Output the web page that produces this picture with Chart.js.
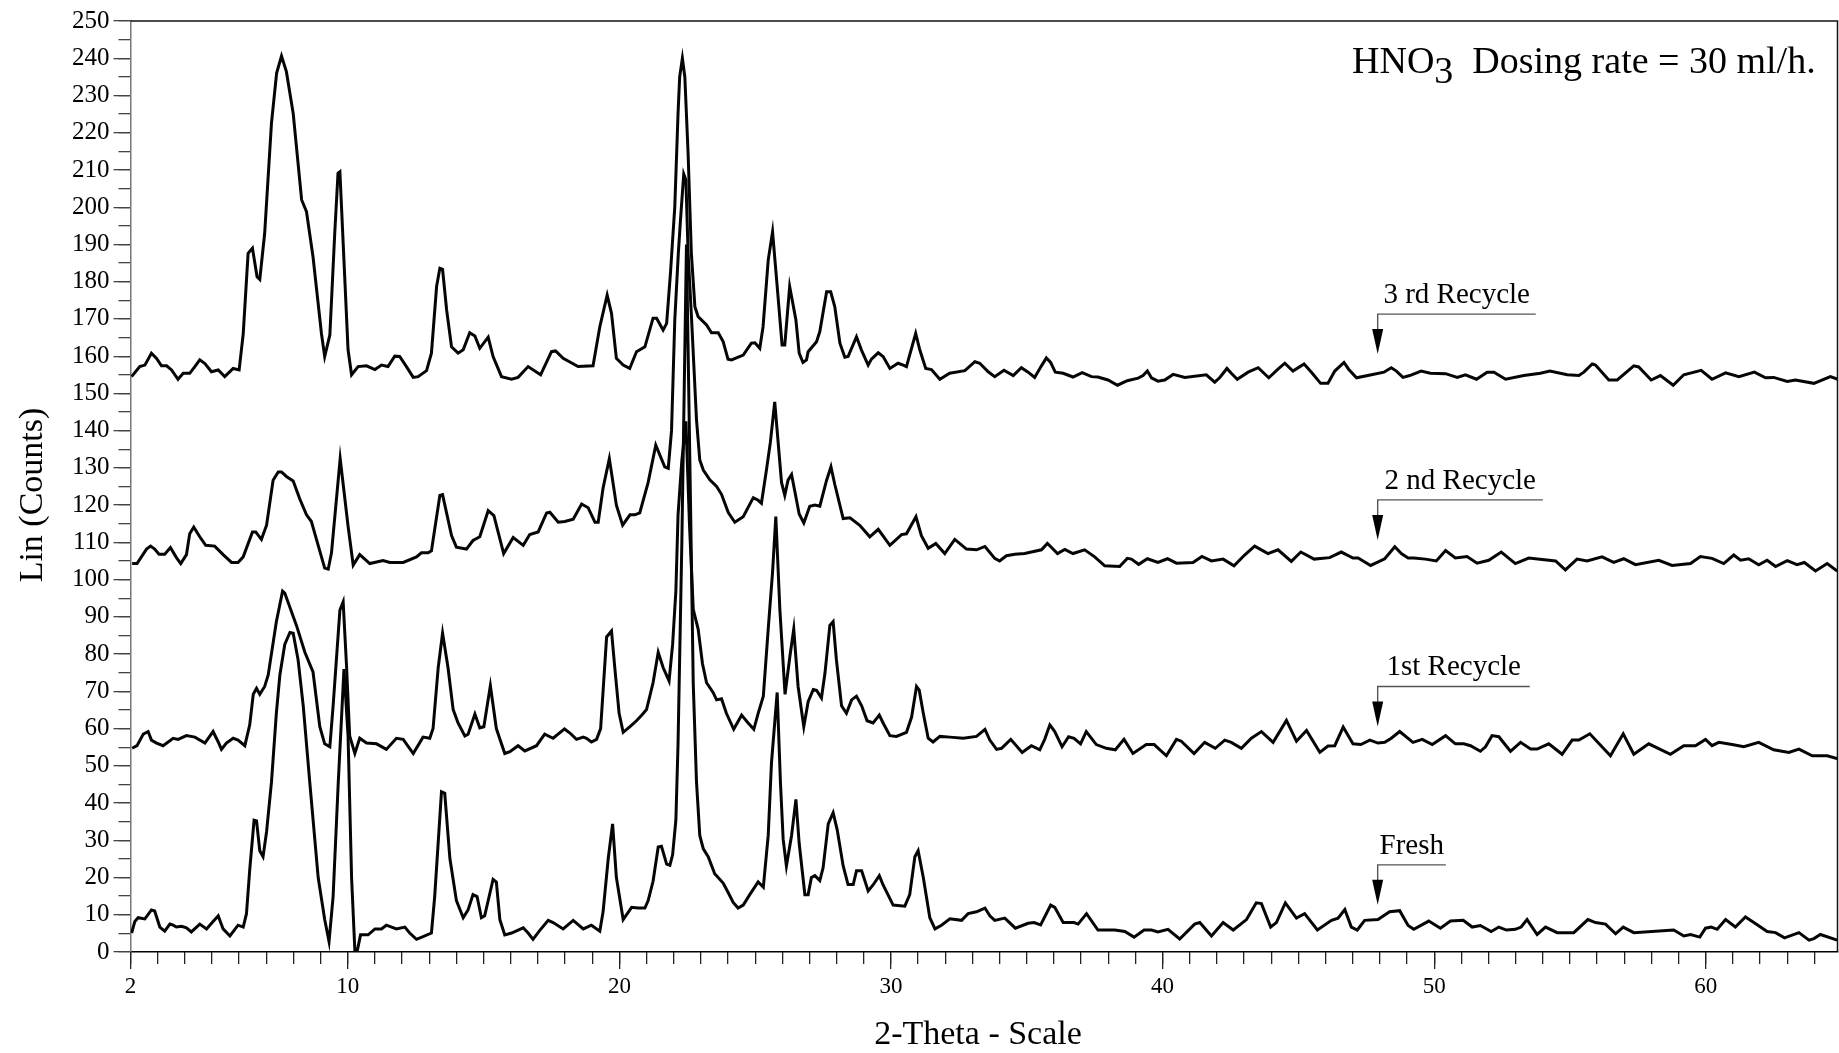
<!DOCTYPE html>
<html>
<head>
<meta charset="utf-8">
<script src="https://cdn.jsdelivr.net/npm/chart.js@4.4.1/dist/chart.umd.min.js"></script>
<style>
    html, body { margin: 0; padding: 0; background: #fff; }
</style>
</head>
<body>
<canvas id="xrd_chart" width="1839" height="1053"></canvas>
<script>
// [2-theta, counts], one list per sample
const fresh = [
    [2.04,5.1],[2.16,8.2],[2.28,9.2],[2.53,8.9],[2.77,11.3],[2.89,11],[3.08,6.7],[3.26,5.6],[3.45,7.5],[3.57,7.2],
    [3.69,6.7],[3.88,6.9],[4.06,6.5],[4.24,5.4],[4.55,7.5],[4.8,6.2],[5.04,8.2],[5.23,9.7],[5.41,6.2],[5.66,4.3],
    [5.96,7.2],[6.15,6.7],[6.27,10.3],[6.39,22.1],[6.55,35.4],[6.64,35.2],[6.76,27.2],[6.88,25.6],[7.01,32.3],[7.19,45.6],
    [7.37,64.1],[7.5,74.4],[7.68,82.6],[7.87,85.8],[7.99,85.6],[8.17,78.5],[8.36,66.1],[8.6,45.6],[8.91,20],[9.15,8.7],
    [9.31,2.8],[9.46,14.9],[9.65,45.6],[9.86,76],[10.01,58],[10.14,20],[10.26,0.5],[10.34,0],[10.47,4.6],[10.75,4.6],
    [11.0,6.2],[11.24,6.2],[11.42,7.2],[11.79,6.2],[12.1,6.7],[12.28,5.1],[12.53,3.4],[12.77,4.1],[13.08,5.1],[13.2,14.9],
    [13.45,43],[13.57,42.6],[13.76,25.1],[14.0,13.8],[14.25,9.2],[14.43,11.3],[14.61,15.4],[14.76,14.9],[14.92,9.2],[15.04,9.7],
    [15.35,19.5],[15.47,18.8],[15.6,8.7],[15.78,4.6],[16.03,5.1],[16.46,6.5],[16.64,5.1],[16.82,3.4],[17.07,5.8],[17.38,8.5],
    [17.56,7.9],[17.93,6.2],[18.3,8.5],[18.67,6.2],[18.97,7.2],[19.28,5.6],[19.4,10.8],[19.59,25.1],[19.75,34.4],[19.89,20],
    [20.14,8.7],[20.45,12],[20.69,11.8],[20.94,11.8],[21.06,13.8],[21.24,19],[21.43,28.2],[21.55,28.4],[21.74,23.6],[21.86,23.3],
    [21.96,26.1],[22.08,35.4],[22.16,55.9],[22.3,110],[22.47,190],[22.62,120],[22.72,72],[22.84,45.6],[22.96,31.3],[23.09,27.7],
    [23.27,25.6],[23.51,21],[23.82,18.5],[24.01,15.9],[24.19,13.3],[24.37,11.8],[24.56,12.6],[24.8,15.4],[25.11,18.8],[25.3,17.4],
    [25.48,31.3],[25.6,50.8],[25.81,69.7],[25.93,45.6],[26.03,30.3],[26.15,23.1],[26.34,31.3],[26.5,41],[26.62,29.2],[26.83,15.4],
    [26.95,15.4],[27.07,20],[27.2,20.5],[27.38,19.2],[27.5,22.6],[27.69,34.4],[27.87,37.4],[28.02,32.8],[28.24,23.1],[28.42,18.1],
    [28.61,18.1],[28.73,21.8],[28.92,21.8],[29.16,16.4],[29.34,18],[29.57,20.5],[29.71,18],[30.08,12.6],[30.51,12.3],[30.69,15.4],
    [30.88,25.6],[31.0,27.2],[31.19,20],[31.43,9.2],[31.62,6.2],[31.86,7.2],[32.17,8.9],[32.6,8.5],[32.84,10.3],[33.15,10.8],
    [33.46,11.8],[33.64,9.7],[33.82,8.5],[34.19,9.1],[34.58,6.4],[35.05,7.7],[35.27,7.9],[35.51,7.3],[35.88,12.6],[36.03,12],
    [36.34,7.9],[36.74,7.9],[36.89,7.5],[37.2,10.3],[37.62,5.9],[38.24,5.9],[38.61,5.5],[38.95,4],[39.32,5.9],[39.59,5.9],
    [39.83,5.4],[40.2,6.1],[40.63,3.5],[41.18,7.5],[41.37,7.9],[41.8,4.3],[42.23,7.9],[42.6,5.9],[43.09,8.7],[43.45,13.2],
    [43.64,13],[43.98,6.7],[44.19,7.9],[44.52,13.2],[44.93,9.1],[45.23,10.3],[45.7,5.9],[46.22,8.5],[46.46,9.1],[46.71,11.4],
    [46.95,6.7],[47.17,5.9],[47.44,8.5],[47.93,8.7],[48.36,10.8],[48.73,11.1],[49.04,7.1],[49.25,6.1],[49.8,8.3],[50.23,6.4],
    [50.6,8.3],[51.07,8.5],[51.4,6.7],[51.7,7.1],[52.1,5.5],[52.38,6.7],[52.66,5.9],[52.99,6.1],[53.2,6.7],[53.42,8.7],
    [53.79,4.7],[54.1,6.7],[54.53,5.2],[55.14,5.2],[55.66,8.7],[55.94,7.9],[56.31,7.5],[56.68,4.9],[56.96,6.7],[57.35,5.2],
    [58.82,5.9],[59.19,4.3],[59.44,4.7],[59.78,4],[59.99,6.4],[60.2,6.7],[60.42,6.1],[60.73,8.7],[61.09,6.7],[61.46,9.4],
    [61.77,7.9],[62.26,5.5],[62.57,5.2],[62.9,3.8],[63.43,5.2],[63.8,3.2],[63.98,3.6],[64.22,4.7],[64.84,3.2]
]

const recycle_1 = [
    [2.06,54.7],[2.24,55.4],[2.47,58.5],[2.65,59.2],[2.77,56.9],[2.96,56.1],[3.2,55.4],[3.57,57.4],[3.75,57.1],[4.06,58.1],
    [4.37,57.7],[4.74,56.1],[5.04,59.2],[5.23,56.4],[5.35,54.4],[5.53,56.1],[5.78,57.4],[5.96,56.9],[6.21,55.4],[6.39,61],
    [6.52,69.2],[6.64,70.8],[6.76,69.2],[6.94,71.3],[7.07,74.4],[7.37,88.7],[7.6,96.9],[7.68,96.4],[8.11,87.7],[8.42,80.5],
    [8.72,75.2],[8.97,60.5],[9.15,55.9],[9.34,55.1],[9.46,66.1],[9.71,91.8],[9.83,94],[9.95,77.4],[10.07,58],[10.26,53.3],
    [10.44,57.4],[10.69,56.1],[11.06,55.9],[11.42,54.4],[11.79,57.4],[12.04,57.1],[12.41,53.3],[12.77,57.7],[13.02,57.4],[13.14,60],
    [13.33,76.4],[13.49,85.6],[13.69,76.4],[13.88,65.1],[14.06,61.5],[14.31,58],[14.43,58.5],[14.68,63.9],[14.86,60.2],[15.01,60.5],
    [15.25,71.5],[15.47,60],[15.78,53.3],[15.97,53.8],[16.27,55.4],[16.52,54],[16.95,55.4],[17.25,58.5],[17.56,57.4],[17.98,59.9],
    [18.18,58.8],[18.42,57.1],[18.67,57.7],[18.79,57.4],[18.97,56.4],[19.16,57.1],[19.31,60],[19.53,84.6],[19.71,86.2],[19.83,76.4],
    [19.99,64.1],[20.14,59],[20.39,60.5],[20.63,62.1],[20.82,63.6],[21.0,65.1],[21.24,72.3],[21.43,80.5],[21.61,76.4],[21.83,72.8],
    [21.96,82.6],[22.08,96.9],[22.16,117.4],[22.3,132],[22.45,142.5],[22.58,115],[22.72,92],[22.9,86.7],[23.06,77.4],[23.21,72.3],
    [23.45,69.7],[23.58,67.7],[23.76,68],[23.94,64.1],[24.21,59.8],[24.5,63.6],[24.74,61.5],[24.95,59.8],[25.11,64.1],[25.3,68.7],
    [25.48,86.7],[25.64,102],[25.76,116.9],[25.91,91.8],[26.1,69.2],[26.28,79.5],[26.42,86.7],[26.58,71.3],[26.79,60.5],[26.95,67.2],
    [27.14,70.5],[27.26,70.3],[27.44,68.2],[27.57,74.9],[27.75,87.7],[27.87,88.7],[27.99,78.5],[28.18,66.1],[28.36,64.1],[28.55,67.7],
    [28.73,68.7],[28.92,66.1],[29.12,62.1],[29.34,61.5],[29.57,63.6],[29.71,61.5],[29.96,58.1],[30.2,57.9],[30.57,59],[30.76,63.1],
    [30.94,71.3],[31.04,70.3],[31.19,64.1],[31.37,57.4],[31.55,56.4],[31.8,57.9],[32.17,57.7],[32.66,57.4],[33.15,57.9],[33.46,59.8],
    [33.64,56.9],[33.89,54.4],[34.07,54.7],[34.41,57.1],[34.83,53.6],[35.17,55.4],[35.48,54.3],[35.66,57.1],[35.85,61],[36.03,59.2],
    [36.3,55.1],[36.54,57.8],[36.74,57.4],[36.98,55.9],[37.19,59.2],[37.56,55.7],[37.93,54.7],[38.26,54.3],[38.58,57.1],[38.91,53.3],
    [39.4,55.7],[39.69,55.7],[40.14,52.7],[40.51,57.1],[40.69,56.6],[41.16,53.3],[41.55,56.3],[41.94,54.7],[42.29,56.9],[42.53,56.3],
    [42.9,54.7],[43.27,57.4],[43.64,59.2],[44.07,56.3],[44.56,62.2],[44.93,56.6],[45.3,59.5],[45.79,53.6],[46.09,55.3],[46.34,55.4],
    [46.65,60.4],[47.01,55.9],[47.3,55.7],[47.63,56.9],[47.93,56.1],[48.18,56.3],[48.42,57.4],[48.73,59.2],[49.22,56.3],[49.56,57.1],
    [49.93,55.7],[50.42,58.1],[50.78,55.9],[51.09,55.9],[51.34,55.4],[51.7,53.9],[51.89,55.1],[52.13,58.1],[52.38,57.8],[52.81,53.9],
    [53.18,56.3],[53.55,54.5],[53.79,54.5],[54.22,55.9],[54.71,53.1],[55.08,56.9],[55.33,56.9],[55.73,58.6],[56.49,52.7],[56.96,58.6],
    [57.35,53.1],[57.9,55.9],[58.7,53.1],[59.19,55.4],[59.62,55.4],[59.99,57.1],[60.23,55.4],[60.48,56.3],[60.97,55.7],[61.4,55.1],
    [61.95,56.3],[62.5,54.3],[63.06,53.6],[63.43,54.5],[63.92,52.7],[64.47,52.7],[64.86,51.9]
]

const recycle_2 = [
    [2.06,104.3],[2.24,104.3],[2.59,108.2],[2.74,109],[2.89,108.2],[3.05,106.8],[3.26,106.8],[3.47,108.6],[3.69,105.9],[3.85,104.3],
    [4.06,106.7],[4.18,112.3],[4.33,114.1],[4.55,111.5],[4.77,109.2],[5.1,109],[5.41,106.7],[5.72,104.6],[5.96,104.6],[6.15,106.1],
    [6.49,112.8],[6.61,112.8],[6.82,110.8],[7.01,114.6],[7.25,126.7],[7.44,128.9],[7.56,128.9],[7.74,127.7],[7.99,126.5],[8.23,121.7],
    [8.48,117.4],[8.66,115.6],[8.91,109.2],[9.15,103.1],[9.28,102.8],[9.4,107.2],[9.72,132.5],[10.01,114.4],[10.2,103.9],[10.44,106.7],
    [10.81,104.3],[11.3,105.1],[11.55,104.6],[12.04,104.6],[12.53,106.1],[12.71,107.2],[12.96,107.2],[13.08,107.7],[13.39,122.6],[13.49,122.8],
    [13.82,111.8],[14.0,108.7],[14.37,108.2],[14.61,110.5],[14.86,111.5],[15.17,118.5],[15.38,117.2],[15.74,107],[16.09,111.3],[16.46,109.2],
    [16.7,112.1],[17.01,112.8],[17.32,117.9],[17.44,118.1],[17.75,115.4],[17.99,115.6],[18.3,116.2],[18.61,120.3],[18.85,119.3],[19.1,115.4],
    [19.22,115.4],[19.4,124.6],[19.63,132.5],[19.89,120],[20.12,114.6],[20.39,117.4],[20.57,117.4],[20.75,117.9],[21.06,126.1],[21.34,136.1],
    [21.67,130.3],[21.8,129.9],[21.92,140],[22.04,169.7],[22.17,187.6],[22.25,196.6],[22.37,208.9],[22.45,207.3],[22.53,187.6],[22.66,169.7],
    [22.84,142.9],[22.96,132.1],[23.09,129.4],[23.33,126.8],[23.58,125],[23.76,122.9],[24.01,118],[24.25,115.4],[24.56,116.9],[24.93,122],
    [25.11,121.3],[25.23,120.5],[25.42,129.7],[25.56,136.9],[25.72,147.7],[25.97,126.1],[26.09,122.6],[26.21,126.7],[26.34,128.2],[26.62,117.6],
    [26.79,115.2],[27.01,119.7],[27.2,120],[27.38,119.7],[27.63,126.7],[27.79,130.3],[27.93,125.6],[28.24,116.4],[28.49,116.6],[28.85,114.6],
    [29.22,111.5],[29.53,113.5],[29.96,109.2],[30.39,112.1],[30.57,112.3],[30.92,116.9],[31.12,111.8],[31.37,108.4],[31.65,109.7],[31.98,107],
    [32.35,110.8],[32.78,108.2],[33.15,108],[33.46,108.9],[33.82,105.7],[34.0,105],[34.25,106.4],[34.56,106.8],[34.92,107],[35.54,108],
    [35.76,109.7],[35.93,108.5],[36.13,107],[36.4,108.1],[36.7,107],[37.13,108],[37.5,106.1],[37.87,103.7],[38.42,103.5],[38.7,105.7],
    [38.85,105.5],[39.12,104.1],[39.44,105.6],[39.83,104.6],[40.18,105.6],[40.51,104.4],[41.12,104.6],[41.45,106.2],[41.8,105],[42.23,105.5],
    [42.63,103.7],[43.02,106.6],[43.39,109],[43.88,107],[44.25,108],[44.74,104.9],[45.09,107.4],[45.58,105.5],[46.15,105.9],[46.58,107.4],
    [47.01,105.8],[47.2,105.8],[47.66,103.8],[48.18,105.6],[48.55,108.8],[48.79,107],[49.04,105.8],[49.25,105.8],[49.68,105.5],[50.08,105],
    [50.42,107.8],[50.78,105.8],[51.21,106.2],[51.58,104.4],[52.01,105.2],[52.47,107.4],[52.99,104.3],[53.48,105.8],[54.47,105],[54.83,102.6],
    [55.26,105.5],[55.63,105],[56.18,106.1],[56.61,104.6],[56.98,105.6],[57.41,104],[58.27,105.2],[58.76,103.8],[59.44,104.3],[59.8,106.2],
    [60.23,105.7],[60.66,104.3],[61.03,106.6],[61.28,105.2],[61.58,105.6],[61.95,104],[62.26,105.2],[62.57,103.5],[63.0,105.1],[63.36,104],
    [63.63,104.6],[64.04,102.3],[64.47,104.3],[64.84,102.3]
]

const recycle_3 = [
    [2.04,154.5],[2.34,157.2],[2.53,157.6],[2.77,160.8],[2.96,159.4],[3.14,157.4],[3.33,157.4],[3.51,156.3],[3.75,153.8],[3.94,155.4],
    [4.18,155.4],[4.37,157.2],[4.55,159],[4.74,158],[4.98,155.8],[5.23,156.3],[5.47,154.5],[5.78,156.7],[6.0,156.3],[6.15,166],
    [6.33,187.6],[6.49,189],[6.66,181.3],[6.76,180.6],[6.94,193],[7.19,222.5],[7.38,236],[7.56,240.6],[7.74,236.4],[7.99,225.2],
    [8.3,202],[8.48,198.8],[8.72,186.7],[9.03,166.1],[9.15,159.9],[9.34,165.7],[9.52,193],[9.64,209.1],[9.71,209.5],[10.01,161.7],
    [10.14,155],[10.38,157.2],[10.69,157.4],[11.0,156.4],[11.24,157.6],[11.48,157.2],[11.73,160],[11.91,159.9],[12.16,157.2],[12.41,154.3],
    [12.59,154.5],[12.9,156.1],[13.08,160.8],[13.27,178.7],[13.39,183.6],[13.49,183.3],[13.64,172.4],[13.82,162.5],[14.06,160.8],[14.25,161.7],
    [14.49,166.3],[14.68,165.4],[14.86,162.1],[15.17,165.1],[15.35,159.9],[15.66,154.5],[16.03,153.8],[16.27,154.3],[16.64,157.2],[17.1,155],
    [17.5,161.2],[17.65,161.4],[17.93,159.4],[18.48,157.2],[19.03,157.4],[19.28,167.9],[19.55,176.4],[19.71,171.5],[19.89,159.4],[20.14,157.6],
    [20.38,156.7],[20.63,161.2],[20.94,162.5],[21.24,170.2],[21.37,170.2],[21.61,167],[21.74,168.8],[21.88,182.2],[22.04,200.1],[22.16,225.2],
    [22.22,235],[22.32,240],[22.41,235],[22.53,214.5],[22.65,187.6],[22.78,173.3],[22.9,170.6],[23.21,168.4],[23.39,166.3],[23.64,166.3],
    [23.82,163.9],[24.0,159.2],[24.13,159],[24.56,160.3],[24.86,163.5],[24.99,163.6],[25.17,162.1],[25.29,167.9],[25.48,185.8],[25.64,193.4],
    [25.79,180.5],[25.99,163],[26.09,163],[26.27,178.7],[26.5,169.7],[26.62,160.8],[26.76,158.3],[26.89,159],[26.95,161.2],[27.26,163.9],
    [27.38,166.6],[27.63,177.3],[27.78,177.3],[27.93,173.3],[28.12,163.5],[28.3,159.7],[28.42,159.9],[28.73,165.2],[28.91,161.7],[29.16,157.6],
    [29.28,159.2],[29.53,160.9],[29.71,159.9],[29.96,156.7],[30.26,158.1],[30.45,157.6],[30.57,157.2],[30.91,166.1],[31.06,161.7],[31.28,156.7],
    [31.49,156.4],[31.8,153.8],[32.16,155.4],[32.72,156.1],[33.09,158.5],[33.27,158.1],[33.58,155.8],[33.82,154.5],[34.16,156.2],[34.5,154.8],
    [34.8,156.9],[35.05,155.7],[35.29,154.3],[35.54,157.4],[35.72,159.5],[35.88,158.3],[36.05,155.7],[36.34,155.4],[36.7,154.4],[37.04,155.6],
    [37.38,154.5],[37.62,154.4],[37.99,153.6],[38.34,152.2],[38.7,153.4],[39.1,154.1],[39.28,154.8],[39.44,156],[39.59,154.2],[39.83,153.3],
    [40.08,153.6],[40.39,155.1],[40.82,154.3],[41.61,155],[41.92,153],[42.1,154.2],[42.37,156.7],[42.53,155.4],[42.75,153.8],[43.15,155.7],
    [43.52,156.9],[43.91,154.2],[44.25,156.5],[44.5,158.1],[44.8,156],[45.21,157.9],[45.48,155.7],[45.82,152.7],[46.09,152.7],[46.34,156],
    [46.68,158.3],[46.85,156.5],[47.14,154.2],[47.69,155],[48.15,155.7],[48.42,156.9],[48.61,156],[48.85,154.3],[49.1,154.8],[49.52,156],
    [49.86,155.4],[50.42,155.3],[50.85,154.3],[51.15,155],[51.56,153.8],[51.95,155.7],[52.2,155.7],[52.63,153.8],[53.3,154.8],[53.91,155.4],
    [54.26,156],[54.9,155],[55.33,154.8],[55.51,155.7],[55.82,157.9],[55.94,157.6],[56.43,153.6],[56.74,153.6],[57.35,157.4],[57.53,157.1],
    [57.99,153.6],[58.33,154.8],[58.8,152.2],[59.19,155],[59.83,156.2],[60.23,153.8],[60.73,155.5],[61.22,154.5],[61.79,155.7],[62.2,154.2],
    [62.5,154.3],[63.0,153.2],[63.3,153.6],[63.98,152.7],[64.59,154.5],[64.86,153.8]
]

const series_names = ['Fresh', '1st Recycle', '2 nd Recycle', '3 rd Recycle']
const x_tick_labels = [2, 10, 20, 30, 40, 50, 60]
const y_tick_labels = [0, 10, 20, 30, 40, 50, 60, 70, 80, 90, 100, 110, 120, 130, 140, 150, 160, 170, 180, 190, 200, 210, 220, 230, 240, 250]

const x_min = 2
const x_max = 64.85
const serif = '"Liberation Serif", "Times New Roman", serif'

// where each sample name sits: arrow at 2-theta `at`, leader line runs to `end`, at count level `level`
const notes = [
    { at: 47.92, end: 53.74, level: 171.3 },
    { at: 47.92, end: 54.0, level: 121.4 },
    { at: 47.92, end: 53.52, level: 71.3 },
    { at: 47.92, end: 50.43, level: 23.4 }
]

const x_minor = []
for (let v = 2; v <= 64; v++) x_minor.push(v)
const y_minor = []
for (let v = 0; v <= 250; v += 5) y_minor.push(v)

const to_points = rows => rows.map(r => ({ x: r[0], y: r[1] }))

const xrd_chart = document.querySelector('#xrd_chart')

const line_set = (label, rows) => ({
    label: label,
    data: to_points(rows),
    borderColor: '#050505',
    borderWidth: 3,
    pointRadius: 0,
    tension: 0,
    fill: false
})

const data_xrd = {
    datasets: [
        line_set(series_names[0], fresh),
        line_set(series_names[1], recycle_1),
        line_set(series_names[2], recycle_2),
        line_set(series_names[3], recycle_3)
    ]
}

const frame_and_notes = {
    id: 'frame_and_notes',
    afterDraw(chart) {
        const { ctx, chartArea: a, scales } = chart
        ctx.save()

        ctx.strokeStyle = '#111'
        ctx.lineWidth = 1.5
        ctx.beginPath()
        ctx.moveTo(a.left, a.top)
        ctx.lineTo(a.right, a.top)
        ctx.lineTo(a.right, a.bottom)
        ctx.stroke()

        // sample names with leader line and arrow
        ctx.font = '29px ' + serif
        ctx.textAlign = 'center'
        ctx.textBaseline = 'alphabetic'
        notes.forEach((n, i) => {
            const ax = scales.x.getPixelForValue(n.at)
            const ex = scales.x.getPixelForValue(n.end)
            const ly = scales.y.getPixelForValue(n.level)
            ctx.strokeStyle = '#555'
            ctx.lineWidth = 1.4
            ctx.beginPath()
            ctx.moveTo(ex, ly)
            ctx.lineTo(ax, ly)
            ctx.lineTo(ax, ly + 16)
            ctx.stroke()
            ctx.fillStyle = '#000'
            ctx.beginPath()
            ctx.moveTo(ax - 5.5, ly + 15)
            ctx.lineTo(ax + 5.5, ly + 15)
            ctx.lineTo(ax, ly + 40)
            ctx.closePath()
            ctx.fill()
            ctx.fillText(series_names[3 - i], (ax + ex) / 2, ly - 11)
        })

        // title with subscript
        ctx.textAlign = 'left'
        ctx.font = '38px ' + serif
        let tx = 1352
        ctx.fillText('HNO', tx, 73)
        tx += ctx.measureText('HNO').width
        ctx.fillText('3', tx, 83)
        tx += ctx.measureText('3').width
        ctx.fillText('  Dosing rate = 30 ml/h.', tx, 73)

        // axis titles
        ctx.font = '34px ' + serif
        ctx.textAlign = 'center'
        ctx.textBaseline = 'middle'
        ctx.fillText('2-Theta - Scale', 978, 1035)
        ctx.translate(33, 495)
        ctx.rotate(-Math.PI / 2)
        ctx.fillText('Lin (Counts)', 0, 0)

        ctx.restore()
    }
}

const options_xrd = {
    responsive: false,
    animation: false,
    layout: {
        padding: { top: 21, right: 1.5, left: 0, bottom: 0 }
    },
    plugins: {
        legend: false,
        tooltip: { enabled: false }
    },
    scales: {
        x: {
            type: 'linear',
            position: 'bottom',
            weight: 1,
            min: x_min,
            max: x_max,
            afterBuildTicks: s => { s.ticks = x_tick_labels.map(v => ({ value: v })) },
            afterFit: s => { s.height = 101 },
            ticks: {
                autoSkip: false,
                maxRotation: 0,
                padding: 4,
                color: '#000',
                font: { family: serif, size: 23 },
                callback: v => String(v)
            },
            grid: { drawOnChartArea: false, tickLength: 17, color: '#222', lineWidth: 1.3 },
            border: { color: '#000', width: 1.5 }
        },
        xMinor: {
            type: 'linear',
            position: 'bottom',
            weight: 0,
            min: x_min,
            max: x_max,
            afterBuildTicks: s => { s.ticks = x_minor.map(v => ({ value: v })) },
            afterFit: s => { s.height = 0 },
            ticks: { display: false, autoSkip: false },
            grid: { drawOnChartArea: false, tickLength: 12, color: '#222', lineWidth: 1.3 },
            border: { display: false }
        },
        y: {
            position: 'left',
            weight: 1,
            min: 0,
            max: 250,
            afterBuildTicks: s => { s.ticks = y_tick_labels.map(v => ({ value: v })) },
            afterFit: s => { s.width = 130.5 },
            ticks: {
                autoSkip: false,
                padding: 4,
                color: '#000',
                font: { family: serif, size: 25 },
                callback: v => String(v)
            },
            grid: { drawOnChartArea: false, tickLength: 17, color: '#444', lineWidth: 1.3 },
            border: { color: '#777', width: 1.5 }
        },
        yMinor: {
            position: 'left',
            weight: 0,
            min: 0,
            max: 250,
            afterBuildTicks: s => { s.ticks = y_minor.map(v => ({ value: v })) },
            afterFit: s => { s.width = 0 },
            ticks: { display: false, autoSkip: false },
            grid: { drawOnChartArea: false, tickLength: 12, color: '#444', lineWidth: 1.3 },
            border: { display: false }
        }
    }
}

new Chart(xrd_chart, {
    type: 'line',
    data: data_xrd,
    options: options_xrd,
    plugins: [frame_and_notes]
})
</script>
</body>
</html>
